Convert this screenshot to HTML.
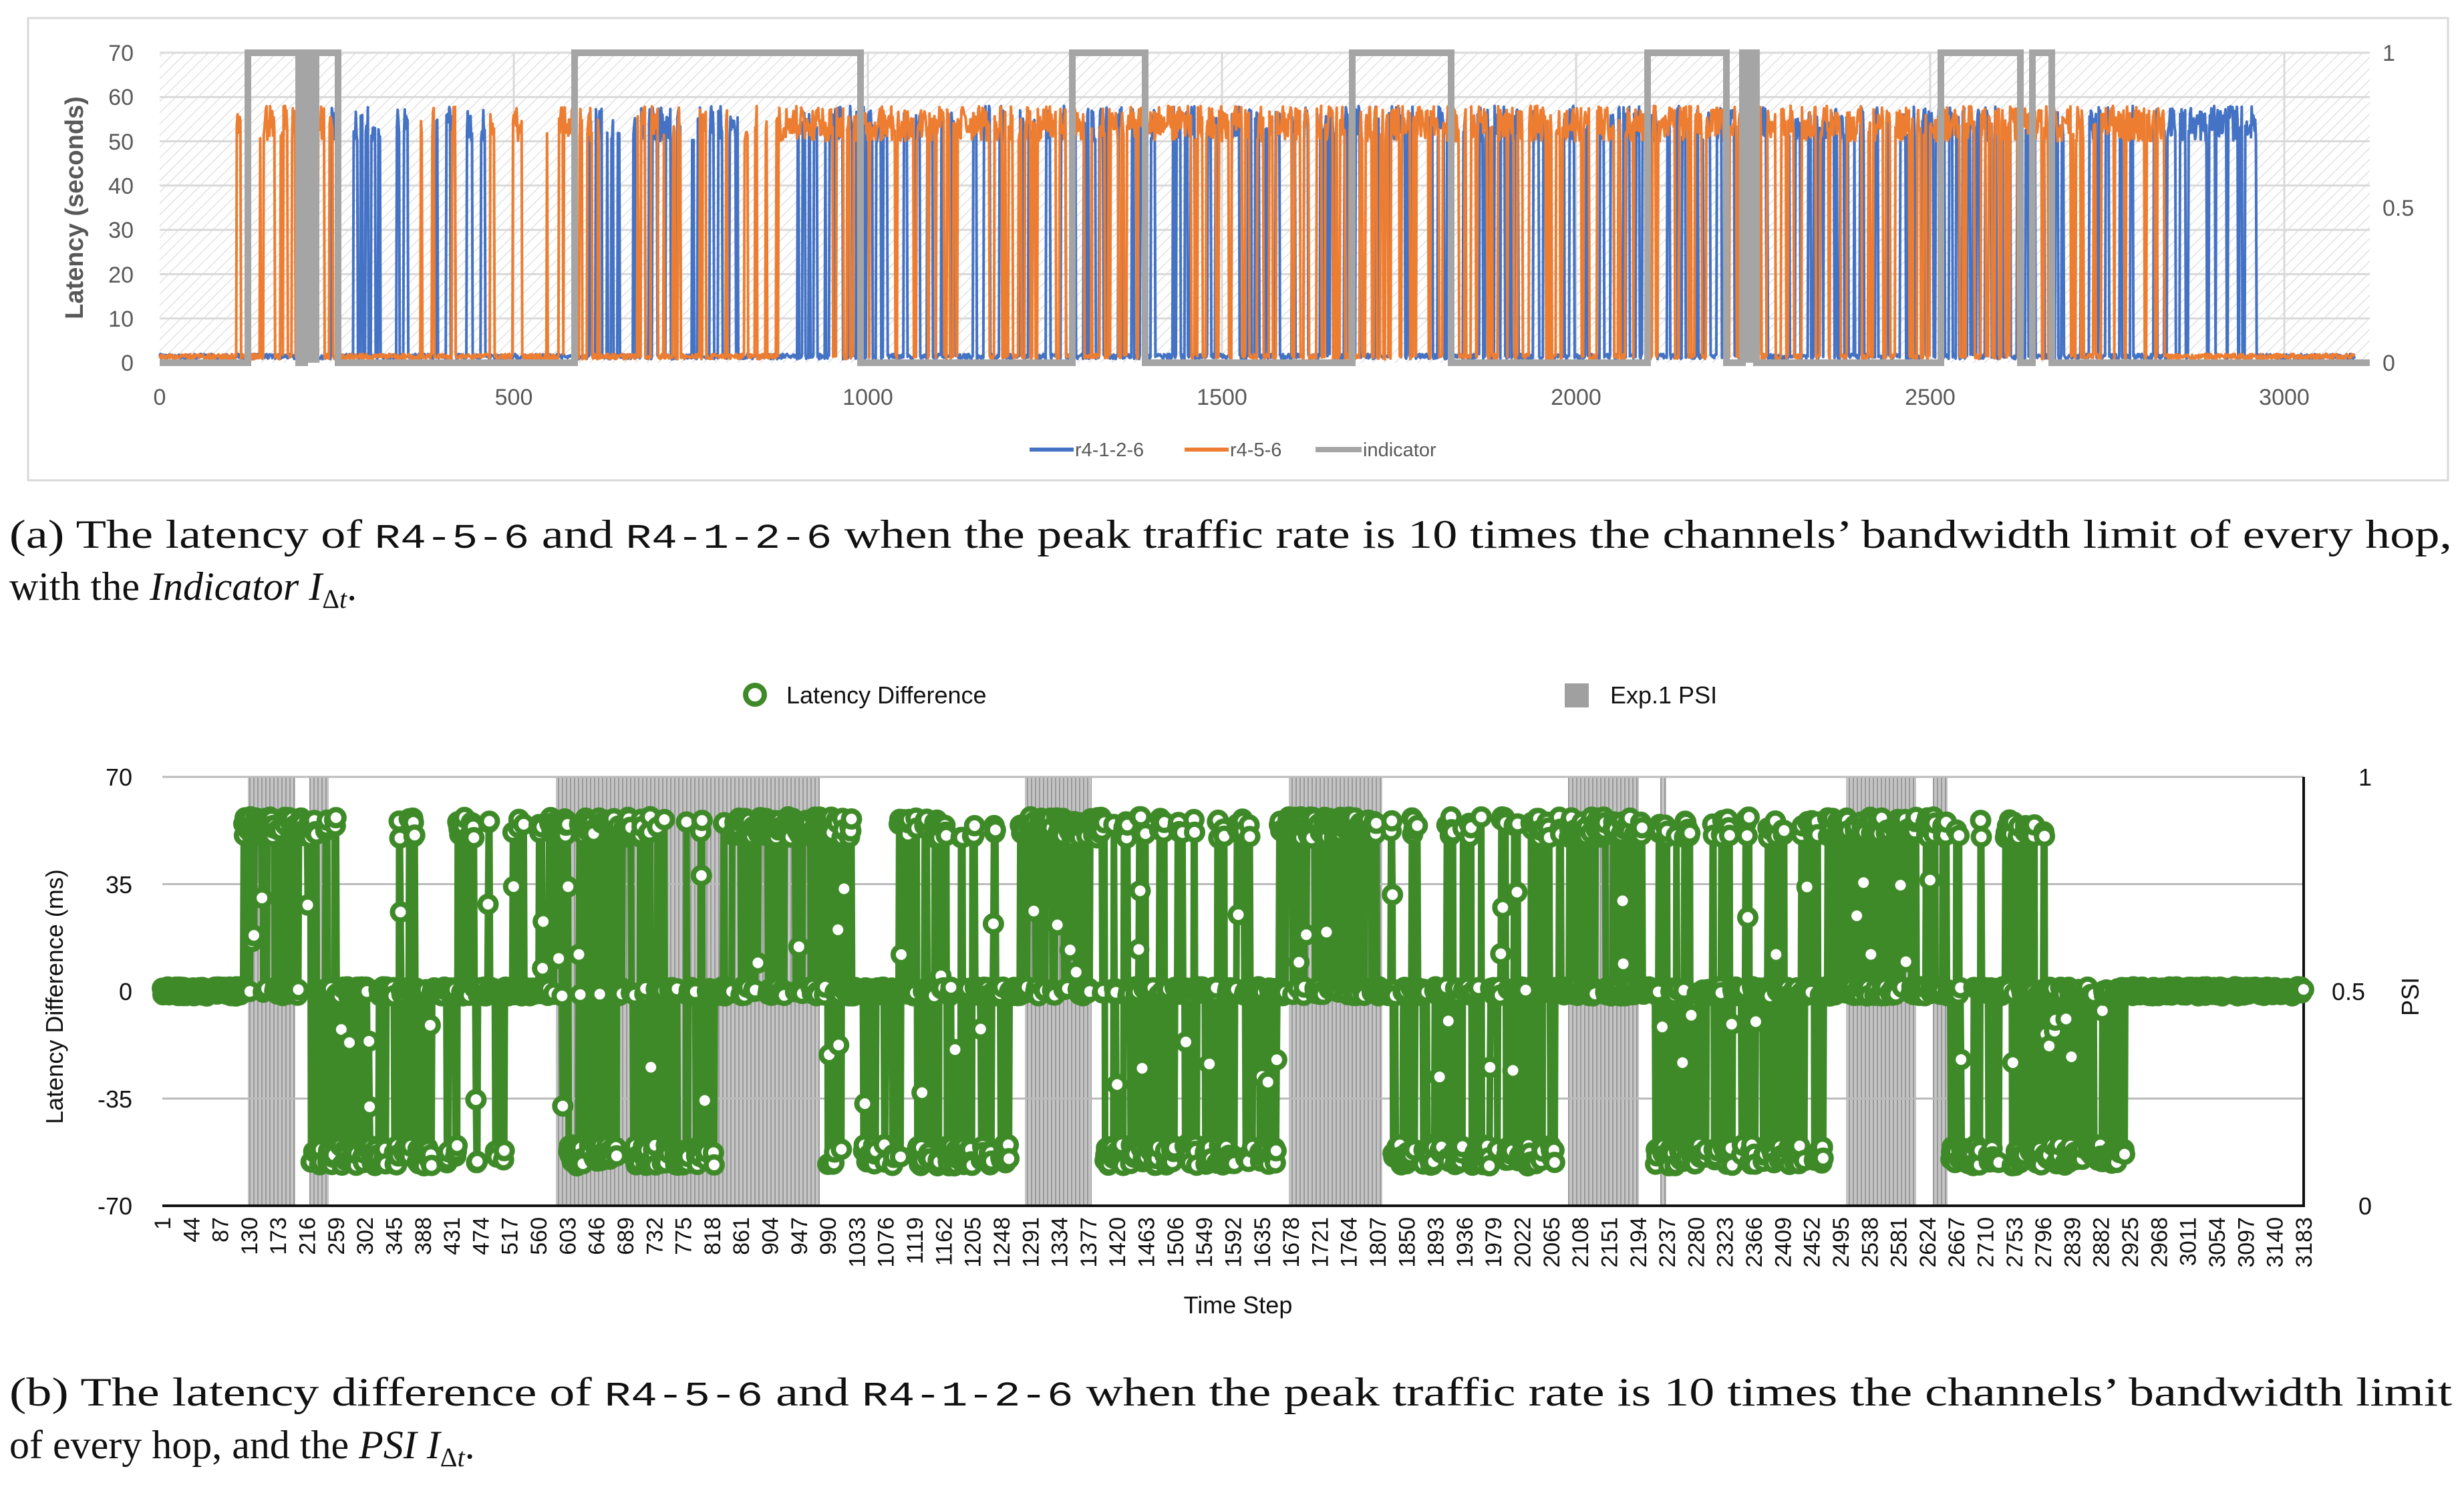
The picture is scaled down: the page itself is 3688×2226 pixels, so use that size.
<!DOCTYPE html>
<html><head><meta charset="utf-8">
<style>
html,body{margin:0;padding:0;background:#fff;width:3688px;height:2226px;overflow:hidden}
svg{display:block}
</style></head>
<body>
<svg id="s" xmlns="http://www.w3.org/2000/svg" width="3688" height="2226" viewBox="0 0 3688 2226">
<defs>
<pattern id="hatch" width="12" height="12" patternUnits="userSpaceOnUse" patternTransform="rotate(45)">
<line x1="0" y1="0" x2="0" y2="12" stroke="#d4d4d4" stroke-width="2"/>
</pattern>
<pattern id="vstripe" width="6" height="10" patternUnits="userSpaceOnUse">
<rect width="6" height="10" fill="#c4c4c4"/>
<line x1="2" y1="0" x2="2" y2="10" stroke="#999" stroke-width="2"/>
</pattern>
</defs>
<rect width="3688" height="2226" fill="#fff"/>
<rect x="42" y="27" width="3622" height="692" fill="#fff" stroke="#d9d9d9" stroke-width="3"/>
<rect x="239" y="79" width="3308" height="464" fill="url(#hatch)"/>
<g id="topgrid"></g>
<g id="topdata"></g>
<g font-family="Liberation Sans, sans-serif" font-size="34" fill="#595959">
<text x="200" y="91" text-anchor="end">70</text>
<text x="200" y="157" text-anchor="end">60</text>
<text x="200" y="224" text-anchor="end">50</text>
<text x="200" y="290" text-anchor="end">40</text>
<text x="200" y="356" text-anchor="end">30</text>
<text x="200" y="423" text-anchor="end">20</text>
<text x="200" y="489" text-anchor="end">10</text>
<text x="200" y="555" text-anchor="end">0</text>
<text x="3566" y="91" >1</text>
<text x="3566" y="323">0.5</text>
<text x="3566" y="555">0</text>
<text x="239" y="606" text-anchor="middle">0</text>
<text x="769" y="606" text-anchor="middle">500</text>
<text x="1299" y="606" text-anchor="middle">1000</text>
<text x="1829" y="606" text-anchor="middle">1500</text>
<text x="2359" y="606" text-anchor="middle">2000</text>
<text x="2889" y="606" text-anchor="middle">2500</text>
<text x="3419" y="606" text-anchor="middle">3000</text>
<text transform="translate(124,311) rotate(-90)" text-anchor="middle" font-weight="bold" font-size="38">Latency (seconds)</text>
</g>
<g font-family="Liberation Sans, sans-serif" font-size="29" fill="#595959">
<line x1="1541" y1="673" x2="1607" y2="673" stroke="#4472c4" stroke-width="6"/>
<text x="1609" y="683">r4-1-2-6</text>
<line x1="1773" y1="673" x2="1839" y2="673" stroke="#ed7d31" stroke-width="6"/>
<text x="1841" y="683">r4-5-6</text>
<line x1="1969" y1="673" x2="2038" y2="673" stroke="#a5a5a5" stroke-width="8"/>
<text x="2040" y="683">indicator</text>
</g>
<g font-family="Liberation Serif, serif" font-size="60" fill="#111">
<text x="14" y="820" textLength="3656" lengthAdjust="spacingAndGlyphs">(a)  The latency of <tspan font-family="Liberation Mono, monospace" font-size="52">R4-5-6</tspan> and <tspan font-family="Liberation Mono, monospace" font-size="52">R4-1-2-6</tspan> when the peak traffic rate is 10 times the channels’ bandwidth limit of every hop,</text>
<text x="14" y="898">with the <tspan font-style="italic">Indicator I</tspan><tspan font-size="40" dy="12">Δ<tspan font-style="italic">t</tspan></tspan><tspan dy="-12">.</tspan></text>
</g>
<g id="botbg"></g>
<g id="botdata"></g>
<g font-family="Liberation Sans, sans-serif" font-size="36" fill="#111">
<text x="198" y="1176" text-anchor="end">70</text>
<text x="198" y="1337" text-anchor="end">35</text>
<text x="198" y="1497" text-anchor="end">0</text>
<text x="198" y="1658" text-anchor="end">-35</text>
<text x="198" y="1818" text-anchor="end">-70</text>
<text x="3530" y="1176">1</text>
<text x="3490" y="1497">0.5</text>
<text x="3530" y="1818">0</text>
<text transform="translate(3620,1492) rotate(-90)" text-anchor="middle">PSI</text>
<text transform="translate(94,1492) rotate(-90)" text-anchor="middle">Latency Difference (ms)</text>
<text x="1853" y="1966" text-anchor="middle">Time Step</text>
<circle cx="1130" cy="1040" r="14" fill="#fff" stroke="#3f8a28" stroke-width="8"/>
<text x="1177" y="1053">Latency Difference</text>
<rect x="2342" y="1023" width="36" height="36" fill="#a0a0a0"/>
<text x="2410" y="1053">Exp.1 PSI</text>
</g>
<g id="xlabels" font-family="Liberation Sans, sans-serif" font-size="34" fill="#111"></g>
<g font-family="Liberation Serif, serif" font-size="60" fill="#111">
<text x="14" y="2104" textLength="3656" lengthAdjust="spacingAndGlyphs">(b)  The latency difference of <tspan font-family="Liberation Mono, monospace" font-size="52">R4-5-6</tspan> and <tspan font-family="Liberation Mono, monospace" font-size="52">R4-1-2-6</tspan> when the peak traffic rate is 10 times the channels’ bandwidth limit</text>
<text x="14" y="2183">of every hop, and the <tspan font-style="italic">PSI I</tspan><tspan font-size="40" dy="12">Δ<tspan font-style="italic">t</tspan></tspan><tspan dy="-12">.</tspan></text>
</g>
</svg>
<script>
(function(){
var seed=12345;function r(){seed=(seed*1103515245+12345)%2147483648;return seed/2147483648;}
function g(id,html){document.getElementById(id).innerHTML=html;}
var h='';
for(var v=10;v<=70;v+=10){var y=543-v*6.63;h+='<line x1="239" x2="3547" y1="'+y+'" y2="'+y+'" stroke="#d9d9d9" stroke-width="3"/>';}
for(var k=1;k<=6;k++){var x=239+k*530;h+='<line y1="79" y2="543" x1="'+x+'" x2="'+x+'" stroke="#d9d9d9" stroke-width="3"/>';}
g('topgrid',h);
function tx(t){return 239+t*1.06;}
function ty(v){return 543-v*6.63;}
function inW(t,ws){for(var i=0;i<ws.length;i++){if(t>=ws[i][0]&&t<=ws[i][1])return ws[i][2];}return 0;}
var oW=[[108,180,0.55],[185,245,0.45],[330,420,0.15],[460,560,0.15],[560,880,0.3],[880,1600,0.75],[1600,2200,0.7],[2200,2830,0.7]];
var bW=[[240,420,0.3],[430,460,0.2],[600,830,0.3],[880,2830,0.3],[2830,2960,0.7]];
var N=3100,o=[],b=[];
function gen(arr,W){var on=false,run=0;for(var t=0;t<N;t++){var p=inW(t,W);if(run<=0){on=r()<p;run=1+Math.floor(r()*(on?6:5));}run--;if(!p)on=false;arr.push(on?50+r()*8:0.8+r()*1.2);}}
gen(b,bW);gen(o,oW);
function poly(arr,col){var s='';for(var t=0;t<N;t++){s+=tx(t).toFixed(1)+','+ty(arr[t]).toFixed(1)+' ';}return '<polyline points="'+s+'" fill="none" stroke="'+col+'" stroke-width="4" stroke-linejoin="round"/>';}
h=poly(b,'#4472c4')+poly(o,'#ed7d31');
var I=[[371,447],[456,473],[473,506],[860,1288],[1605,1714],[2024,2172],[2466,2584],[2608,2629],[2905,3024],[3042,3071]];
var d='M239,543';for(var i=0;i<I.length;i++){d+=' L'+I[i][0]+',543 L'+I[i][0]+',79 L'+I[i][1]+',79 L'+I[i][1]+',543';}d+=' L3547,543';
h+='<path d="'+d+'" fill="none" stroke="#a5a5a5" stroke-width="10"/>';
h+='<rect x="456" y="79" width="17" height="464" fill="#a5a5a5"/><rect x="2608" y="79" width="21" height="464" fill="#a5a5a5"/>';
g('topdata',h);
var P=[[371,442],[463,492],[832,1227],[1534,1634],[1929,2069],[2347,2453],[2485,2494],[2763,2868],[2893,2915]];
h='';
for(i=0;i<P.length;i++){h+='<rect x="'+P[i][0]+'" y="1163" width="'+(P[i][1]-P[i][0])+'" height="642" fill="url(#vstripe)"/>';}
[1163,1323.5,1644.5].forEach(function(y){h+='<line x1="243" x2="3448" y1="'+y+'" y2="'+y+'" stroke="#bbb" stroke-width="3"/>';});
h+='<line x1="243" x2="3450" y1="1805" y2="1805" stroke="#111" stroke-width="4"/><line x1="3448" x2="3448" y1="1163" y2="1807" stroke="#111" stroke-width="4"/>';
g('botbg',h);
function bx(s){return 243+(s-1)*1.0072;}
function by(v){return 1484-v*4.586;}
var posW=[[120,230,0.55],[240,400,0.08],[440,540,0.1],[560,700,0.5],[700,850,0.12],[850,1000,0.6],[1000,1280,0.15],[1280,1400,0.6],[1400,1660,0.15],[1660,1810,0.55],[1810,2090,0.15],[2090,2200,0.55],[2200,2480,0.15],[2480,2630,0.55],[2630,2800,0.15]];
var negW=[[220,400,0.45],[420,520,0.15],[590,820,0.4],[860,900,0.1],[990,1260,0.4],[1400,1660,0.4],[1830,2080,0.4],[2220,2470,0.4],[2650,2930,0.45]];
var S=3183,pts='',circ='',st=0,run=0;
for(var s=1;s<=S;s++){
 if(run<=0){var pp=inW(s,posW),pn=inW(s,negW),q=r();
  st=q<pp?1:(q<pp+pn?-1:0);run=1+Math.floor(r()*(st?4:3));}
 run--;
 var df;
 if(st===1)df=50+r()*7;else if(st===-1)df=-(50+r()*7);else df=(r()-0.5)*3;
 if(st!==0&&r()<0.05)df=df*(0.1+r()*0.6);
 var X=bx(s).toFixed(1),Y=by(df).toFixed(1);pts+=X+','+Y+' ';
 circ+='<circle cx="'+X+'" cy="'+Y+'" r="12"/>';}
h='<polyline points="'+pts+'" fill="none" stroke="#3f8a28" stroke-width="10" stroke-linejoin="round"/>';
h+='<g fill="#fff" stroke="#3f8a28" stroke-width="8">'+circ+'</g>';
g('botdata',h);
h='';
for(s=1;s<=S;s+=43){var x=bx(s)+12;h+='<text transform="translate('+x.toFixed(1)+',1822) rotate(-90)" text-anchor="end">'+s+'</text>';}
g('xlabels',h);
})();
</script>
</body></html>
